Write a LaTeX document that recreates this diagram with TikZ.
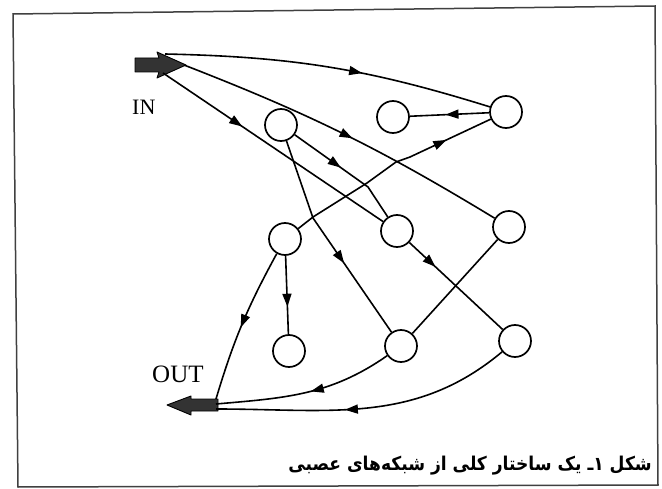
\documentclass[tikz,border=0pt]{standalone}
\usepackage{fontspec}
\usepackage{graphicx}
\setmainfont{Liberation Serif}
\newfontfamily\arabicfont[Script=Arabic]{DejaVu Sans}
\TeXXeTstate=1
\usetikzlibrary{arrows.meta,decorations.markings,calc}

\tikzset{
  neuron/.style={circle, draw, line width=1.7pt, minimum size=32pt, inner sep=0pt, fill=white},
  link/.style={line width=1.6pt, line join=round},
  arrowat/.style={postaction={decorate}, decoration={markings,
      mark=at position #1 with {\arrow{Triangle[length=13pt,width=9pt]}}}},
  blockarrow/.style={fill=black!80, draw=black, line width=0.9pt, line join=round},
  label/.style={inner sep=0pt},
}

\begin{document}
\begin{tikzpicture}[x=1pt,y=1pt]
  \useasboundingbox (0,0) rectangle (662,-489);
  \fill[white] (0,0) rectangle (662,-489);

  % frame
  \draw[line width=1.5pt, black!75] (13,-14) -- (655,-6) -- (658,-485) -- (18,-487) -- cycle;

  % input and output block arrows
  \fill[blockarrow] (135,-58) -- (159,-58) -- (157,-52) -- (186,-65) -- (157,-78) -- (159,-72) -- (135,-72) -- cycle;
  \fill[blockarrow] (218,-399) -- (191,-399) -- (191,-396) -- (167,-405) -- (191,-415) -- (191,-411) -- (218,-411) -- cycle;
  \coordinate (inA) at (165,-54);
  \coordinate (inB) at (184,-65);
  \coordinate (inC) at (163,-73);
  \coordinate (outA) at (216,-399);
  \coordinate (outB) at (216,-404);
  \coordinate (outC) at (216,-409);

  \node[label, anchor=west, font=\fontsize{22}{24}\selectfont] (inlabel) at (132,-107) {IN};
  \node[label, anchor=west, font=\fontsize{25}{27}\selectfont] (outlabel) at (152,-374) {OUT};

  % neurons
  \node[neuron] (A) at (281,-125) {};
  \node[neuron] (B) at (393,-117) {};
  \node[neuron] (C) at (506,-112) {};
  \node[neuron] (D) at (285,-239) {};
  \node[neuron] (E) at (397,-231) {};
  \node[neuron] (F) at (509,-227) {};
  \node[neuron] (G) at (289,-351) {};
  \node[neuron] (H) at (401,-346) {};
  \node[neuron] (I) at (515,-341) {};

  % connections
  \draw[link, arrowat=0.6] (inA) to[bend left=8] (C);
  \draw[link, arrowat=0.53] (inB) to[bend left=5] (F);
  \draw[link, arrowat=0.36] (inC) -- (E);
  \draw[link, arrowat=0.45] (A) -- (368,-187) -- (E);
  \draw[link, arrowat=0.62] (A) -- (313,-218) -- (H);
  \draw[link, arrowat=0.78] (D) -- (313,-217) -- (367,-183) -- (396,-162) -- (410,-157) -- (C);
  \draw[link, arrowat=0.55] (C) -- (B);
  \draw[link, arrowat=0.65] (D) -- (G);
  \draw[link, arrowat=0.52] (D) to[bend right=6] (outA);
  \draw[link, arrowat=0.47] (H) to[out=215,in=5] (outB);
  \draw[link, arrowat=0.57] (I) to[out=220,in=0] (outC);
  \draw[link] (H) -- (F);
  \draw[link, arrowat=0.28] (E) -- (I);

  % caption
  \node[anchor=east, inner sep=0pt, font=\arabicfont\bfseries\fontsize{19}{22}\selectfont] (caption) at (652,-466)
    {\scalebox{0.9}[1]{\beginR شکل ۱ـ یک ساختار کلی از شبکه‌های عصبی\endR}};
\end{tikzpicture}
\end{document}
